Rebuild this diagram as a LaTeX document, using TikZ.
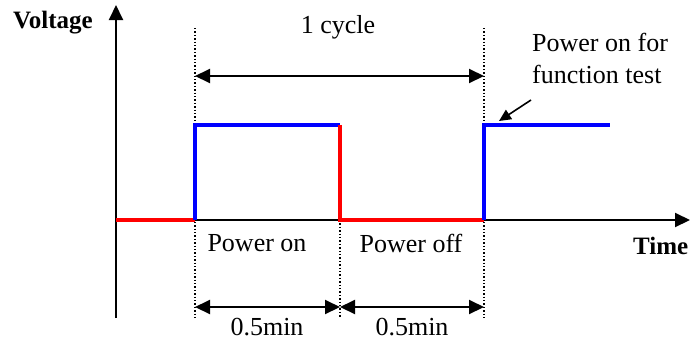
\documentclass[tikz,border=0pt]{standalone}
\usepackage{fontspec}
\setmainfont{Liberation Serif}
\usetikzlibrary{arrows.meta}
\begin{document}
\begin{tikzpicture}[x=1pt,y=-1pt,
  axis/.style={line width=2pt,-{Triangle[length=15pt,width=14pt]}},
  dim/.style={line width=2pt,{Triangle[length=15pt,width=14pt]}-{Triangle[length=15pt,width=14pt]}},
  guide/.style={line width=1.4pt,dotted},
  onsig/.style={line width=4pt,blue},
  offsig/.style={line width=4pt,red},
  lbl/.style={font=\fontsize{26}{32}\selectfont,inner sep=0pt},
  bold/.style={font=\fontsize{25}{30}\selectfont\bfseries,inner sep=0pt}]
\useasboundingbox (0,0) rectangle (690,338);
% coordinates
\coordinate (ybot) at (116,318);
\coordinate (ytop) at (116,5);
\coordinate (x0) at (116,220);
\coordinate (xend) at (690,220);
\coordinate (d1t) at (195,28);
\coordinate (d1b) at (195,318);
\coordinate (d2t) at (340,220);
\coordinate (d2b) at (340,318);
\coordinate (d3t) at (484,28);
\coordinate (d3b) at (484,318);
\coordinate (a1) at (195,220);
\coordinate (b1) at (195,125);
\coordinate (b2) at (340,125);
\coordinate (a2) at (340,220);
\coordinate (a3) at (484,220);
\coordinate (b3) at (484,125);
\coordinate (b4) at (610,125);
\coordinate (c1) at (195,76);
\coordinate (c2) at (484,76);
\coordinate (h1) at (195,307);
\coordinate (h2) at (340,307);
\coordinate (h3) at (484,307);
\coordinate (pa) at (531,100);
\coordinate (pb) at (499,121);
% guides
\draw[guide] (d1t) -- (d1b);
\draw[guide] (d2t) -- (d2b);
\draw[guide] (d3t) -- (d3b);
% axes
\draw[axis] (ybot) -- (ytop);
\draw[axis] (x0) -- (xend);
% signal
\draw[offsig] (x0) -- (a1);
\draw[onsig] (a1) -- (b1) -- (b2);
\draw[offsig] (b2) -- (a2) -- (a3);
\draw[onsig] (a3) -- (b3) -- (b4);
% dimension arrows
\draw[dim] (c1) -- (c2);
\draw[dim] (h1) -- (h2);
\draw[dim] (h2) -- (h3);
\draw[line width=1.6pt,-{Triangle[length=12pt,width=11pt]}] (pa) -- (pb);
% labels
\node[bold] (volt) at (53,23) {Voltage};
\node[bold,anchor=west] (time) at (633,246) {Time};
\node[lbl] (cyc) at (338,27) {1 cycle};
\node[lbl,anchor=north west,align=left] (pft) at (532,33) {Power on for\\function test};
\node[lbl] (pon) at (257,243) {Power on};
\node[lbl] (poff) at (411,243) {Power off};
\node[lbl] (t1) at (267,327) {0.5min};
\node[lbl] (t2) at (412,327) {0.5min};
\end{tikzpicture}
\end{document}
